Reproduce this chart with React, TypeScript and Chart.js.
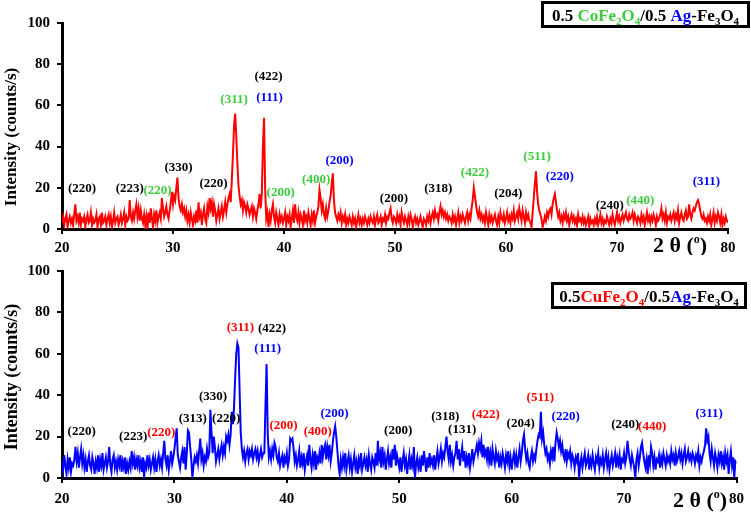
import React, { useEffect, useRef } from "react";
import { Chart, registerables } from "chart.js";

Chart.register(...registerables);

const FONT = "'Liberation Serif', 'Times New Roman', serif";
const COLORS: Record<string, string> = { k: "#000000", g: "#3DCC3D", b: "#0000FF", r: "#FF0000" };

// 2θ grid: 20.0 .. 80.0, step 0.1
const THETA_START = 20;
const THETA_STEP = 0.1;

// 0.5 CoFe2O4 / 0.5 Ag-Fe3O4 (red), one row per degree
const coFeIntensity = [
  3,6,2,5,7,1,4,6,3,5,
  2,7,12,4,6,3,8,2,5,4,
  6,1,5,7,3,4,8,2,5,3,
  4,7,1,5,6,2,8,3,4,6,
  2,5,7,3,6,1,4,8,3,5,
  6,2,4,7,3,5,8,2,6,4,
  5,14,6,4,8,5,9,12,6,10,
  4,9,5,3,7,2,6,0,8,3,
  10,5,1,7,4,9,3,6,8,5,
  15,10,6,8,11,7,5,9,13,18,
  12,16,14,20,25,15,11,9,12,8,
  10,6,9,4,7,3,8,5,2,6,
  4,9,3,13,6,8,2,7,10,5,
  3,11,8,15,10,13,6,12,9,4,
  7,10,5,8,11,6,9,13,8,12,
  15,17,13,24,36,50,56,45,32,21,
  16,12,14,9,13,11,8,12,10,7,
  9,11,6,10,8,5,9,12,17,10,
  17,40,54,20,5,8,1,7,4,9,
  12,6,3,8,5,2,7,4,6,3,
  5,8,2,6,4,7,1,5,9,3,
  12,6,4,8,3,7,5,2,9,4,
  6,3,8,5,2,7,4,9,3,6,
  8,11,19,15,9,12,7,5,10,6,
  9,13,16,22,27,14,8,6,4,7,
  5,8,3,6,4,7,2,5,3,6,
  4,2,6,3,5,1,4,7,3,5,
  2,5,3,6,4,2,5,3,6,4,
  3,6,2,5,7,3,4,6,2,5,
  4,7,3,6,5,8,10,5,3,6,
  5,3,7,4,6,2,8,5,3,6,
  4,2,6,3,7,5,1,4,6,3,
  5,2,4,6,3,1,5,4,2,6,
  4,7,3,6,8,5,9,6,7,4,
  8,11,7,9,6,8,5,7,4,6,
  5,3,7,4,6,2,5,8,3,6,
  4,7,5,3,6,8,4,7,5,10,
  14,20,16,12,8,6,9,5,7,4,
  6,3,8,5,2,7,4,6,3,5,
  7,4,2,6,3,8,5,4,7,3,
  5,8,4,6,3,7,5,9,4,6,
  8,5,10,7,4,9,6,3,8,5,
  7,4,3,1,8,15,22,28,18,12,
  9,7,5,1,3,6,4,8,6,9,
  10,7,12,15,17,13,9,6,8,4,
  6,3,7,5,8,4,6,2,5,7,
  4,6,3,5,2,7,4,5,3,6,
  3,5,2,4,6,1,5,3,4,2,
  5,3,6,2,4,7,3,5,2,4,
  3,6,4,2,5,3,7,4,2,5,
  8,4,6,3,5,7,4,6,8,5,
  4,7,5,6,8,4,7,5,3,6,
  5,3,7,4,6,2,5,8,4,6,
  3,6,4,7,5,2,6,4,5,7,
  10,5,7,4,8,3,6,5,7,4,
  6,8,4,7,5,9,3,6,8,5,
  4,7,9,5,6,12,7,5,8,10,
  9,11,13,14,12,9,6,5,7,4,
  5,3,6,4,7,2,5,8,3,6,
  4,8,6,3,7,2,5,3,6,4,
  3,
];

// 0.5 CuFe2O4 / 0.5 Ag-Fe3O4 (blue), one row per degree
const cuFeIntensity = [
  8,4,11,6,2,9,5,10,3,7,
  6,9,15,8,12,5,10,14,7,11,
  5,9,3,8,11,6,4,10,7,2,
  8,5,11,3,9,6,12,4,7,10,
  5,8,15,6,3,9,11,5,8,4,
  9,6,11,3,8,5,10,2,7,4,
  8,5,13,7,10,4,9,6,11,5,
  8,3,10,0,7,5,11,6,9,4,
  7,10,5,9,3,8,11,6,9,5,
  12,18,9,6,11,4,8,13,7,10,
  14,19,24,11,8,5,10,13,7,15,
  4,12,23,22,15,9,0,6,10,8,
  11,7,13,19,9,12,6,10,8,14,
  10,12,33,22,12,20,15,8,11,14,
  9,13,16,11,15,12,20,18,21,16,
  21,32,26,34,48,60,65,63,42,22,
  14,10,13,8,12,14,9,13,11,14,
  9,12,14,10,13,8,11,14,10,12,
  12,35,55,22,10,13,9,14,11,17,
  15,10,8,12,6,9,11,5,10,8,
  12,6,9,19,18,19,14,8,11,6,
  9,13,5,10,7,12,4,8,11,6,
  16,9,5,11,7,13,4,10,8,12,
  7,16,10,14,16,9,15,11,16,8,
  12,18,22,25,20,13,6,2,9,5,
  10,6,12,4,8,11,5,9,3,7,
  11,5,8,2,9,6,12,4,7,10,
  6,9,3,11,7,4,10,8,5,12,
  6,18,9,12,5,15,8,11,4,9,
  13,7,10,5,14,9,16,6,11,8,
  5,10,3,8,12,6,9,2,7,11,
  4,9,6,15,0,7,10,5,8,3,
  11,6,13,8,3,10,5,12,7,9,
  6,11,4,9,13,7,10,14,8,12,
  10,15,20,13,9,16,8,11,6,10,
  12,18,9,14,6,11,15,8,13,5,
  10,7,12,5,9,14,8,11,13,16,
  12,17,14,18,10,16,11,13,9,15,
  8,12,6,14,10,7,13,9,11,5,
  10,7,12,9,5,11,8,13,6,10,
  4,9,12,7,11,5,10,14,8,12,
  18,21,14,9,12,7,5,10,13,8,
  11,9,14,18,21,20,32,19,22,16,
  12,14,9,11,7,13,10,15,8,17,
  22,19,15,18,13,16,11,9,14,8,
  12,10,13,7,11,9,5,10,8,12,
  0,7,10,5,9,12,6,8,11,4,
  9,6,11,7,4,10,8,12,5,9,
  7,11,5,9,12,6,10,4,8,11,
  6,9,12,5,10,7,11,4,9,8,
  12,7,10,18,13,9,6,11,8,5,
  0,9,12,6,10,15,17,12,8,5,
  9,2,11,7,15,12,6,10,4,9,
  8,11,5,10,7,12,9,6,11,8,
  10,7,13,9,11,6,12,8,10,13,
  9,12,7,11,14,8,10,13,9,11,
  8,12,10,7,11,9,13,6,10,8,
  11,13,16,24,18,20,12,8,14,10,
  6,12,9,5,11,8,13,7,10,4,
  12,8,11,2,9,13,6,10,0,8,
  7,
];

const xTicks = [20, 30, 40, 50, 60, 70, 80];
const yTicks = [0, 20, 40, 60, 80, 100];

// peak labels: [2θ, intensity, text, colour key]
const coFeLabels: [number, number, string, string][] = [
  [21.8, 19.7, "(220)", "k"],
  [26.1, 19.7, "(223)", "k"],
  [28.6, 18.6, "(220)", "g"],
  [30.5, 29.7, "(330)", "k"],
  [33.65, 22.2, "(220)", "k"],
  [35.5, 62.9, "(311)", "g"],
  [38.6, 73.8, "(422)", "k"],
  [38.7, 63.6, "(111)", "b"],
  [39.7, 17.6, "(200)", "g"],
  [42.9, 24.2, "(400)", "g"],
  [45.0, 33.1, "(200)", "b"],
  [49.9, 14.5, "(200)", "k"],
  [53.9, 19.4, "(318)", "k"],
  [57.2, 27.3, "(422)", "g"],
  [60.2, 17.3, "(204)", "k"],
  [62.8, 35.0, "(511)", "g"],
  [64.85, 25.4, "(220)", "b"],
  [69.35, 11.3, "(240)", "k"],
  [72.1, 13.7, "(440)", "g"],
  [78.06, 22.9, "(311)", "b"],
];

const cuFeLabels: [number, number, string, string][] = [
  [21.75, 22.6, "(220)", "k"],
  [26.33, 20.2, "(223)", "k"],
  [28.83, 22.1, "(220)", "r"],
  [31.64, 28.5, "(313)", "k"],
  [33.43, 39.3, "(330)", "k"],
  [34.6, 28.5, "(220)", "k"],
  [35.87, 72.8, "(311)", "r"],
  [38.68, 72.2, "(422)", "k"],
  [38.3, 62.6, "(111)", "b"],
  [39.7, 25.3, "(200)", "r"],
  [42.76, 22.4, "(400)", "r"],
  [44.24, 30.9, "(200)", "b"],
  [49.9, 22.9, "(200)", "k"],
  [54.1, 29.8, "(318)", "k"],
  [55.6, 23.2, "(131)", "k"],
  [57.7, 30.6, "(422)", "r"],
  [60.8, 26.4, "(204)", "k"],
  [62.55, 38.9, "(511)", "r"],
  [64.8, 29.6, "(220)", "b"],
  [70.1, 25.8, "(240)", "k"],
  [72.5, 24.8, "(440)", "r"],
  [77.57, 30.9, "(311)", "b"],
];

type Part = { t: string; color: string; size: number; dy: number };

function drawParts(ctx: CanvasRenderingContext2D, parts: Part[], x: number, baseline: number, align: "left" | "center") {
  const widths = parts.map((p) => {
    ctx.font = `bold ${p.size}px ${FONT}`;
    return ctx.measureText(p.t).width;
  });
  const total = widths.reduce((a, b) => a + b, 0);
  let cx = align === "center" ? x - total / 2 : x;
  ctx.textAlign = "left";
  ctx.textBaseline = "alphabetic";
  parts.forEach((p, i) => {
    ctx.font = `bold ${p.size}px ${FONT}`;
    ctx.fillStyle = p.color;
    ctx.fillText(p.t, cx, baseline + p.dy);
    cx += widths[i];
  });
}

const decorPlugin = {
  id: "decor",
  afterDraw(chart: any, _args: any, opts: any) {
    const ctx: CanvasRenderingContext2D = chart.ctx;
    const xs = chart.scales.x;
    const ys = chart.scales.y;
    ctx.save();
    // peak labels
    ctx.font = `bold 13px ${FONT}`;
    ctx.textAlign = "center";
    ctx.textBaseline = "middle";
    (opts.labels as [number, number, string, string][]).forEach(([lx, ly, t, c]) => {
      ctx.fillStyle = COLORS[c];
      ctx.fillText(t, xs.getPixelForValue(lx), ys.getPixelForValue(ly));
    });
    // y title
    ctx.save();
    ctx.translate(opts.yTitle.x, opts.yTitle.y);
    ctx.rotate(-Math.PI / 2);
    ctx.font = `bold ${opts.yTitle.size}px ${FONT}`;
    ctx.fillStyle = "#000";
    ctx.textAlign = "center";
    ctx.textBaseline = "middle";
    ctx.fillText("Intensity (counts/s)", 0, 0);
    ctx.restore();
    // x label 2θ (º)
    drawParts(
      ctx,
      [
        { t: "2 θ (", color: "#000", size: 22, dy: 0 },
        { t: "o", color: "#000", size: 12, dy: -9 },
        { t: ")", color: "#000", size: 22, dy: 0 },
      ],
      opts.xLabel.x,
      opts.xLabel.y,
      "center"
    );
    // legend box
    const b = opts.box;
    ctx.fillStyle = "#fff";
    ctx.fillRect(b.x, b.y, b.w, b.h);
    ctx.strokeStyle = "#000";
    ctx.lineWidth = 3;
    ctx.strokeRect(b.x, b.y, b.w, b.h);
    drawParts(ctx, b.parts, b.x + b.w / 2, b.ty, "center");
    ctx.restore();
  },
};

function seriesPoints(values: number[]) {
  return values.map((v, i) => ({ x: THETA_START + i * THETA_STEP, y: v }));
}

const tickFont = { family: FONT, size: 15, weight: "bold" as const };

function makeChart(canvas: HTMLCanvasElement, cfg: any) {
  return new Chart(canvas, {
    type: "line",
    data: {
      datasets: [
        {
          data: seriesPoints(cfg.values),
          borderColor: cfg.color,
          borderWidth: 2,
          pointRadius: 0,
          tension: 0,
          fill: false,
        },
      ],
    },
    options: {
      animation: false,
      responsive: false,
      maintainAspectRatio: false,
      layout: { padding: { top: cfg.padTop, right: cfg.padRight, left: 0, bottom: 0 } },
      plugins: {
        legend: { display: false },
        tooltip: { enabled: false },
        decor: cfg.decor,
      } as any,
      scales: {
        x: {
          type: "linear",
          min: xTicks[0],
          max: xTicks[xTicks.length - 1],
          afterBuildTicks: (s: any) => {
            s.ticks = xTicks.map((v) => ({ value: v }));
          },
          ticks: { color: "#000", font: tickFont, padding: cfg.xPad, maxRotation: 0, autoSkip: false },
          grid: { drawOnChartArea: false, drawTicks: true, tickLength: 5, color: "#000", lineWidth: 2 },
          border: { color: "#000", width: 3 },
          afterFit: (s: any) => {
            s.height = cfg.xHeight;
          },
        },
        y: {
          min: yTicks[0],
          max: yTicks[yTicks.length - 1],
          afterBuildTicks: (s: any) => {
            s.ticks = yTicks.map((v) => ({ value: v }));
          },
          ticks: { color: "#000", font: tickFont, padding: 7 },
          grid: { drawOnChartArea: false, drawTicks: true, tickLength: 5, color: "#000", lineWidth: 2 },
          border: { color: "#000", width: 3 },
          afterFit: (s: any) => {
            s.width = 62;
          },
        },
      },
    } as any,
    plugins: [decorPlugin as any],
  });
}

export default function App() {
  const topRef = useRef<HTMLCanvasElement>(null);
  const botRef = useRef<HTMLCanvasElement>(null);

  useEffect(() => {
    const top = makeChart(topRef.current!, {
      values: coFeIntensity,
      color: "#FF0000",
      padTop: 23,
      padRight: 23,
      xHeight: 26,
      xPad: 5,
      decor: {
        labels: coFeLabels,
        yTitle: { x: 12, y: 137, size: 17 },
        xLabel: { x: 680, y: 252 },
        box: {
          x: 542.5,
          y: 2.5,
          w: 206,
          h: 24,
          ty: 20.5,
          parts: [
            { t: "0.5 ", color: COLORS.k, size: 17, dy: 0 },
            { t: "CoFe", color: COLORS.g, size: 17, dy: 0 },
            { t: "2", color: COLORS.g, size: 11, dy: 4 },
            { t: "O", color: COLORS.g, size: 17, dy: 0 },
            { t: "4", color: COLORS.g, size: 11, dy: 4 },
            { t: "/0.5 ", color: COLORS.k, size: 17, dy: 0 },
            { t: "Ag", color: COLORS.b, size: 17, dy: 0 },
            { t: "-Fe", color: COLORS.k, size: 17, dy: 0 },
            { t: "3", color: COLORS.k, size: 11, dy: 4 },
            { t: "O", color: COLORS.k, size: 17, dy: 0 },
            { t: "4", color: COLORS.k, size: 11, dy: 4 },
          ],
        },
      },
    });
    const bot = makeChart(botRef.current!, {
      values: cuFeIntensity,
      color: "#0000FF",
      padTop: 14,
      padRight: 13,
      xHeight: 36,
      xPad: 7,
      decor: {
        labels: cuFeLabels,
        yTitle: { x: 12, y: 122, size: 18 },
        xLabel: { x: 700, y: 252 },
        box: {
          x: 552.5,
          y: 28.5,
          w: 193,
          h: 24,
          ty: 46.5,
          parts: [
            { t: "0.5", color: COLORS.k, size: 17, dy: 0 },
            { t: "CuFe", color: COLORS.r, size: 17, dy: 0 },
            { t: "2", color: COLORS.r, size: 11, dy: 4 },
            { t: "O", color: COLORS.r, size: 17, dy: 0 },
            { t: "4", color: COLORS.r, size: 11, dy: 4 },
            { t: "/0.5", color: COLORS.k, size: 17, dy: 0 },
            { t: "Ag", color: COLORS.b, size: 17, dy: 0 },
            { t: "-Fe", color: COLORS.k, size: 17, dy: 0 },
            { t: "3", color: COLORS.k, size: 11, dy: 4 },
            { t: "O", color: COLORS.k, size: 17, dy: 0 },
            { t: "4", color: COLORS.k, size: 11, dy: 4 },
          ],
        },
      },
    });
    return () => {
      top.destroy();
      bot.destroy();
    };
  }, []);

  return (
    <div style={{ position: "absolute", left: 0, top: 0, width: 751, height: 514, background: "#fff" }}>
      <canvas ref={topRef} width={751} height={255} style={{ position: "absolute", left: 0, top: 0, display: "block" }} />
      <canvas ref={botRef} width={751} height={259} style={{ position: "absolute", left: 0, top: 255, display: "block" }} />
    </div>
  );
}
